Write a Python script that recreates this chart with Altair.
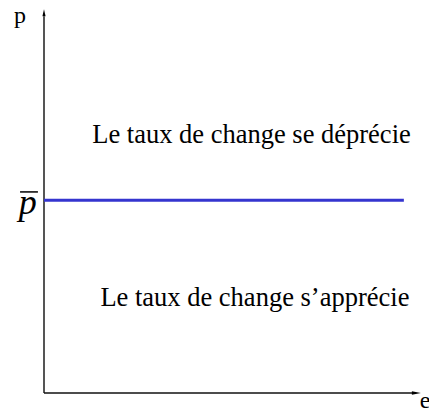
import altair as alt
import pandas as pd

# Economic diagram: price level p against exchange rate e
P_BAR = 5.03          # level of the horizontal line p̄
LINE_END = 9.47       # right end of the blue line
AXIS_X_END = 9.71
AXIS_Y_END = 9.84

label_texts = ["Le taux de change se déprécie", "Le taux de change s’apprécie"]
label_x = [5.46, 5.55]
label_y = [6.53, 2.27]

axis_names = ["p", "e"]
axis_name_x = [-0.63, 10.03]
axis_name_y = [9.66, -0.39]

xs = alt.Scale(domain=[0, 10], nice=False, zero=False)
ys = alt.Scale(domain=[0, 10], nice=False, zero=False)
FONT = "'Liberation Serif', 'Times New Roman', Times, serif"

# axes
yaxis = alt.Chart(pd.DataFrame({"x": [0], "y": [0], "y2": [AXIS_Y_END]})).mark_rule(
    color="#555555", strokeWidth=2
).encode(x=alt.X("x:Q", scale=xs, axis=None), y=alt.Y("y:Q", scale=ys, axis=None), y2="y2:Q")

xaxis = alt.Chart(pd.DataFrame({"x": [0], "x2": [AXIS_X_END], "y": [0]})).mark_rule(
    color="#111111", strokeWidth=1.5
).encode(x=alt.X("x:Q", scale=xs, axis=None), x2="x2:Q", y=alt.Y("y:Q", scale=ys, axis=None))

arrow_up = alt.Chart(pd.DataFrame({"x": [0], "y": [9.93]})).mark_point(
    shape="M0,-1L0.45,1L-0.45,1Z", filled=True, color="black", size=49, opacity=1
).encode(x=alt.X("x:Q", scale=xs, axis=None), y=alt.Y("y:Q", scale=ys, axis=None))

arrow_right = alt.Chart(pd.DataFrame({"x": [9.80], "y": [0]})).mark_point(
    shape="M1,0L-1,0.37L-1,-0.37Z", filled=True, color="black", size=81, opacity=1
).encode(x=alt.X("x:Q", scale=xs, axis=None), y=alt.Y("y:Q", scale=ys, axis=None))

# horizontal p-bar line
pline = alt.Chart(pd.DataFrame({"x": [0], "x2": [LINE_END], "y": [P_BAR]})).mark_rule(
    color="#3535cf", strokeWidth=3
).encode(x=alt.X("x:Q", scale=xs, axis=None), x2="x2:Q", y=alt.Y("y:Q", scale=ys, axis=None))

# p-bar label: italic p with an overline
pbar_text = alt.Chart(pd.DataFrame({"x": [-0.43], "y": [4.67], "t": ["p"]})).mark_text(
    font=FONT, fontSize=36, fontStyle="italic", baseline="alphabetic", align="center", color="black"
).encode(x=alt.X("x:Q", scale=xs, axis=None), y=alt.Y("y:Q", scale=ys, axis=None), text="t:N")

pbar_over = alt.Chart(pd.DataFrame({"x": [-0.63], "x2": [-0.16], "y": [5.25]})).mark_rule(
    color="black", strokeWidth=1.5
).encode(x=alt.X("x:Q", scale=xs, axis=None), x2="x2:Q", y=alt.Y("y:Q", scale=ys, axis=None))

names = alt.Chart(pd.DataFrame({"x": axis_name_x, "y": axis_name_y, "t": axis_names})).mark_text(
    font=FONT, fontSize=24, baseline="alphabetic", align="center", color="black"
).encode(x=alt.X("x:Q", scale=xs, axis=None), y=alt.Y("y:Q", scale=ys, axis=None), text="t:N")

labels = alt.Chart(pd.DataFrame({"x": label_x, "y": label_y, "t": label_texts})).mark_text(
    font=FONT, fontSize=26.5, baseline="alphabetic", align="center", color="black"
).encode(x=alt.X("x:Q", scale=xs, axis=None), y=alt.Y("y:Q", scale=ys, axis=None), text="t:N")

chart = alt.layer(
    yaxis, xaxis, arrow_up, arrow_right, pline, pbar_text, pbar_over, names, labels
).properties(
    width=380, height=383,
    padding={"left": 36, "top": 2, "right": 5, "bottom": 19},
    autosize=alt.AutoSizeParams(type="none"),
    background="white",
).configure_view(stroke=None)

chart.save("out.html", embed_options={"renderer": "svg", "actions": False})
